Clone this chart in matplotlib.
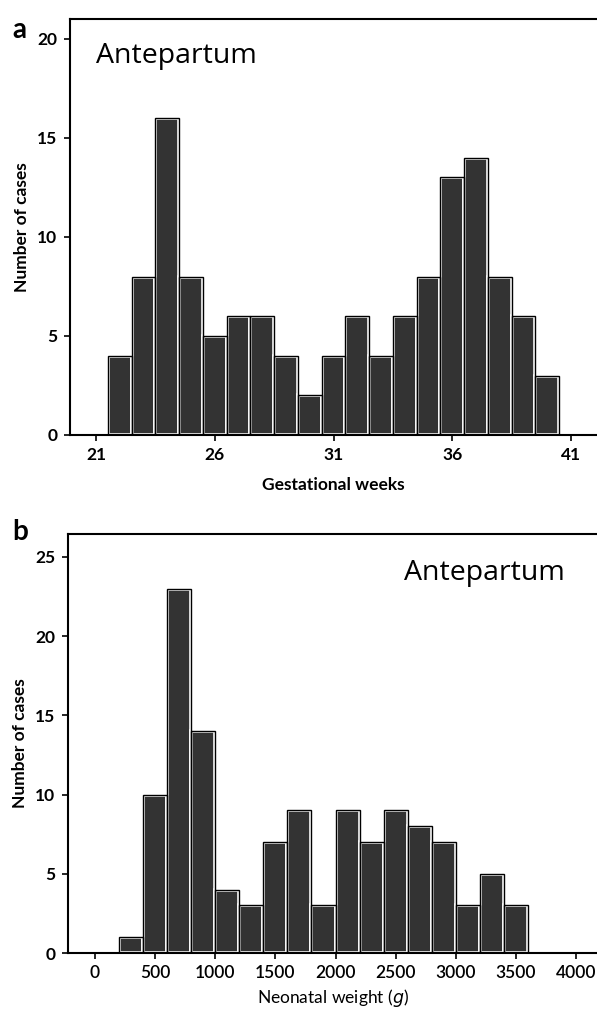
import matplotlib
matplotlib.use("Agg")
import matplotlib.pyplot as plt
import numpy as np

# Panel a data
weeks = [22, 23, 24, 25, 26, 27, 28, 29, 30, 31, 32, 33, 34, 35, 36, 37, 38, 39, 40]
cases_a = [4, 8, 16, 8, 5, 6, 6, 4, 2, 4, 6, 4, 6, 8, 13, 14, 8, 6, 3]
xticks_a = [21, 26, 31, 36, 41]
yticks_a = [0, 5, 10, 15, 20]

# Panel b data (bin left edges, 200 g bins)
weight_bins = [200, 400, 600, 800, 1000, 1200, 1400, 1600, 1800, 2000,
               2200, 2400, 2600, 2800, 3000, 3200, 3400]
cases_b = [1, 10, 23, 14, 4, 3, 7, 9, 3, 9, 7, 9, 8, 7, 3, 5, 3]
xticks_b = [0, 500, 1000, 1500, 2000, 2500, 3000, 3500, 4000]
yticks_b = [0, 5, 10, 15, 20, 25]

plt.rcParams['font.family'] = ['Lato', 'DejaVu Sans']

fig = plt.figure(figsize=(5.97, 10.10), dpi=100)
W, H = 597, 1010

def axes_px(l, t, r, b):
    return fig.add_axes([l / W, 1 - b / H, (r - l) / W, (b - t) / H])

fill = '#333333'

def draw_bars(ax, x, h, width, align):
    ax.bar(x, h, width=width, align=align, color=fill, edgecolor='white',
           linewidth=2.6, zorder=2)
    ax.bar(x, h, width=width, align=align, fill=False, edgecolor='black',
           linewidth=1.0, zorder=3)

def style(ax):
    ax.spines['right'].set_visible(False)
    for s in ['left', 'top', 'bottom']:
        ax.spines[s].set_linewidth(1.5)
        ax.spines[s].set_color('black')
    ax.tick_params(direction='out', length=4, width=1.2, colors='black', pad=5)

# Panel a
ax1 = axes_px(70, 19, 597, 435)
draw_bars(ax1, weeks, cases_a, 1.0, 'center')
ax1.set_xlim(19.9, 42.1)
ax1.set_ylim(0, 21)
ax1.set_xticks(xticks_a)
ax1.set_yticks(yticks_a)
style(ax1)
for lab in ax1.get_xticklabels() + ax1.get_yticklabels():
    lab.set_fontweight('bold')
    lab.set_fontsize(12.5)
ax1.set_xlabel('Gestational weeks', fontsize=12.5, fontweight='bold', labelpad=10)
ax1.set_ylabel('Number of cases', fontsize=12.5, fontweight='bold', labelpad=5)
ax1.text(0.05, 0.945, 'Antepartum', transform=ax1.transAxes, fontsize=20.5,
         ha='left', va='top', family=['Open Sans', 'DejaVu Sans'])
fig.text(12 / W, 1 - 30 / H, 'a', fontsize=20, fontweight='bold', ha='left', va='center')

# Panel b
ax2 = axes_px(68, 534, 597, 953)
draw_bars(ax2, weight_bins, cases_b, 200, 'edge')
ax2.set_xlim(-225, 4175)
ax2.set_ylim(0, 26.45)
ax2.set_xticks(xticks_b)
ax2.set_yticks(yticks_b)
style(ax2)
for lab in ax2.get_yticklabels():
    lab.set_fontweight('bold')
    lab.set_fontsize(12.5)
for lab in ax2.get_xticklabels():
    lab.set_fontsize(12.5)
    lab.set_fontweight('semibold')
ax2.set_xlabel('Neonatal weight ($\\mathit{g}$)', fontsize=12.5, labelpad=4)
ax2.set_ylabel('Number of cases', fontsize=12.5, fontweight='bold', labelpad=5)
ax2.text(0.635, 0.94, 'Antepartum', transform=ax2.transAxes, fontsize=20.5,
         ha='left', va='top', family=['Open Sans', 'DejaVu Sans'])
fig.text(12 / W, 1 - 532 / H, 'b', fontsize=20, fontweight='bold', ha='left', va='center')

fig.savefig('out.png', dpi=100)
